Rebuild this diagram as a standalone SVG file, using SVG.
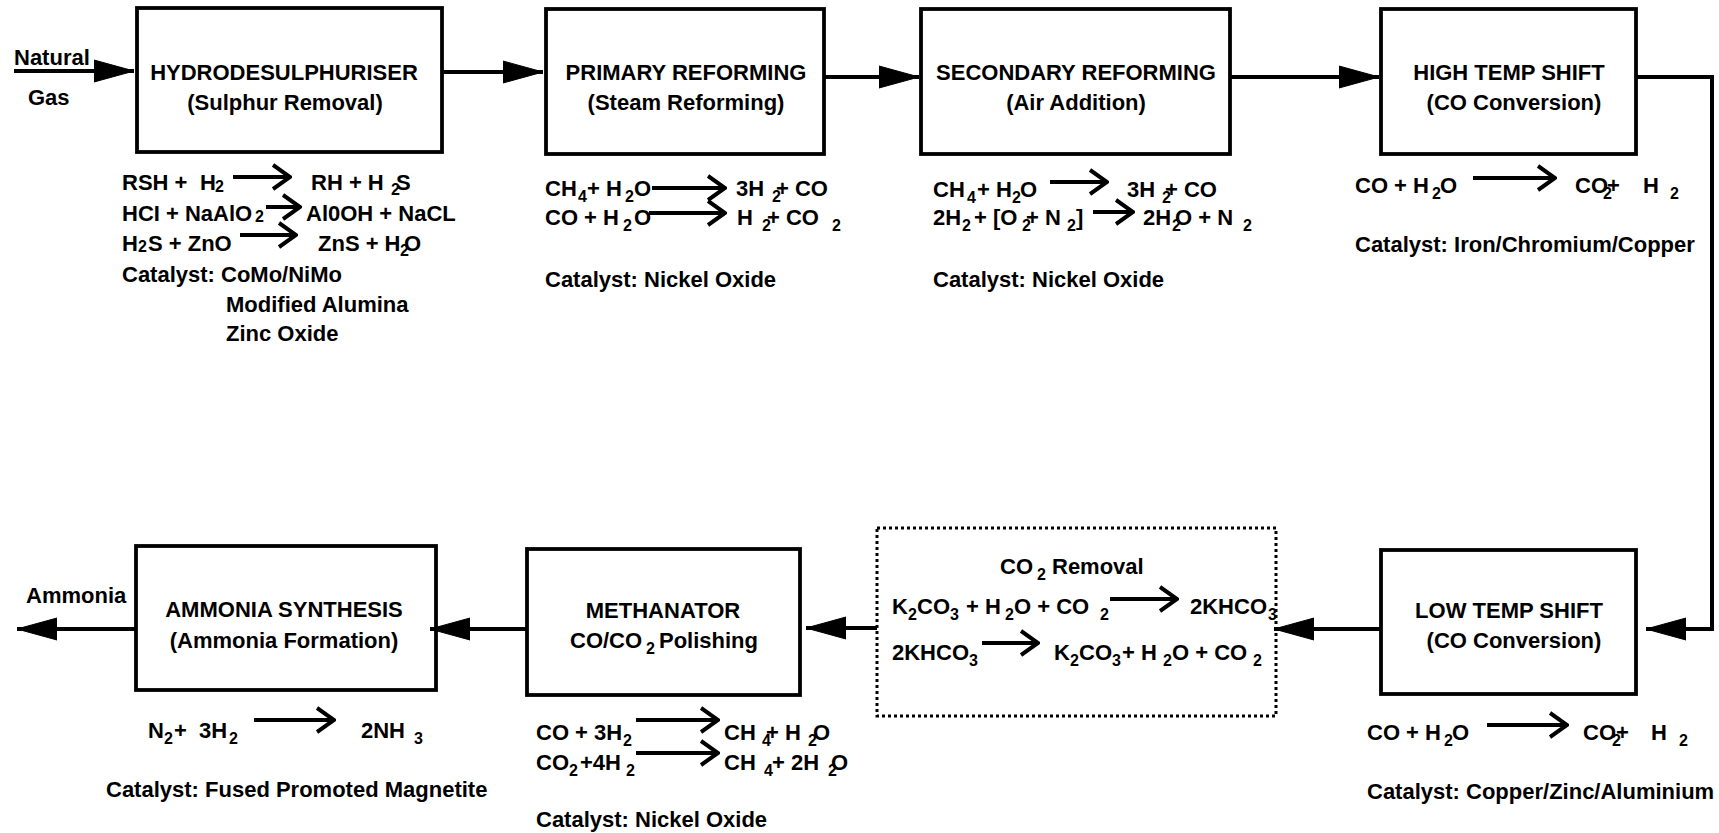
<svg xmlns="http://www.w3.org/2000/svg" width="1719" height="833" viewBox="0 0 1719 833">
<defs>
<style>
.t{font-family:"Liberation Sans",Arial,sans-serif;font-weight:bold;font-size:22px;fill:#000}
.c{text-anchor:middle}
.s{font-size:16px}
.box{fill:none;stroke:#000;stroke-width:3.8}
.dot{fill:none;stroke:#000;stroke-width:3;stroke-dasharray:3 3}
.flow{fill:none;stroke:#000;stroke-width:4;marker-end:url(#tri)}
.eq{fill:none;stroke:#000;stroke-width:4;marker-end:url(#chev)}
</style>
<marker id="tri" markerUnits="userSpaceOnUse" markerWidth="42" markerHeight="24" refX="40" refY="12" orient="auto" viewBox="0 0 42 24"><path d="M0,1 L40,12 L0,23 z" fill="#000" stroke="#000" stroke-width="1" stroke-linejoin="round"/></marker>
<marker id="chev" markerUnits="userSpaceOnUse" markerWidth="20" markerHeight="28" refX="18" refY="14" orient="auto" viewBox="0 0 20 28"><path d="M1,2 L18,14 L1,26" fill="none" stroke="#000" stroke-width="4"/></marker>
</defs>
<rect width="1719" height="833" fill="#fff"/>

<g id="connectors">
<path class="flow" d="M14,71 H134"/>
<path class="flow" d="M442,72 H543"/>
<path class="flow" d="M824,77 H919"/>
<path class="flow" d="M1230,77 H1379"/>
<path class="flow" d="M1636,77 H1712 V629 H1646"/>
<path class="flow" d="M1381,629 H1274"/>
<path class="flow" d="M877,628 H806"/>
<path class="flow" d="M527,629 H430"/>
<path class="flow" d="M136,629 H17"/>
</g>

<g id="labels">
<text class="t" x="14" y="65">Natural</text>
<text class="t" x="28" y="105">Gas</text>
<text class="t" x="26" y="603">Ammonia</text>
</g>

<g id="hydrodesulphuriser">
<rect class="box" x="137" y="8" width="305" height="144"/>
<text class="t c" x="284" y="80">HYDRODESULPHURISER</text>
<text class="t c" x="285" y="110">(Sulphur Removal)</text>
<g id="hds-eq">
<text class="t" y="190"><tspan x="122">RSH +</tspan><tspan x="200">H</tspan><tspan class="s" x="215" y="192">2</tspan><tspan x="311" y="190">RH + H</tspan><tspan class="s" x="391" y="195">2</tspan><tspan x="396" y="190">S</tspan></text>
<path class="eq" d="M233,177 H290"/>
<text class="t" y="221"><tspan x="122">HCI + NaAlO</tspan><tspan class="s" x="255" y="222">2</tspan><tspan x="306" y="221">Al0OH + NaCL</tspan></text>
<path class="eq" d="M266,207 H300"/>
<text class="t" y="251"><tspan x="122">H</tspan><tspan class="s" x="138" y="252">2</tspan><tspan x="148" y="251">S + ZnO</tspan><tspan x="318" y="251">ZnS + H</tspan><tspan class="s" x="400" y="256">2</tspan><tspan x="404" y="251">O</tspan></text>
<path class="eq" d="M240,235 H296"/>
<text class="t" x="122" y="282">Catalyst: CoMo/NiMo</text>
<text class="t" x="226" y="312">Modified Alumina</text>
<text class="t" x="226" y="341">Zinc Oxide</text>
</g>
</g>

<g id="primary-reforming">
<rect class="box" x="546" y="9" width="278" height="145"/>
<text class="t c" x="686" y="80">PRIMARY REFORMING</text>
<text class="t c" x="686" y="110">(Steam Reforming)</text>
<g id="pr-eq">
<text class="t" y="196"><tspan x="545">CH</tspan><tspan class="s" x="578" y="202">4</tspan><tspan x="587" y="196">+ H</tspan><tspan class="s" x="625" y="202">2</tspan><tspan x="634" y="196">O</tspan><tspan x="736" y="196">3H</tspan><tspan class="s" x="772" y="202">2</tspan><tspan x="776" y="196">+ CO</tspan></text>
<path class="eq" d="M652,188 H725"/>
<text class="t" y="225"><tspan x="545">CO + H</tspan><tspan class="s" x="623" y="231">2</tspan><tspan x="634" y="225">O</tspan><tspan x="737" y="225">H</tspan><tspan class="s" x="762" y="231">2</tspan><tspan x="767" y="225">+ CO</tspan><tspan class="s" x="832" y="231">2</tspan></text>
<path class="eq" d="M649,213 H725"/>
<text class="t" x="545" y="287">Catalyst: Nickel Oxide</text>
</g>
</g>

<g id="secondary-reforming">
<rect class="box" x="921" y="9" width="309" height="145"/>
<text class="t c" x="1076" y="80">SECONDARY REFORMING</text>
<text class="t c" x="1076" y="110">(Air Addition)</text>
<g id="sr-eq">
<text class="t" y="197"><tspan x="933">CH</tspan><tspan class="s" x="967" y="203">4</tspan><tspan x="977" y="197">+ H</tspan><tspan class="s" x="1012" y="203">2</tspan><tspan x="1020" y="197">O</tspan><tspan x="1127" y="197">3H</tspan><tspan class="s" x="1162" y="203">2</tspan><tspan x="1165" y="197">+ CO</tspan></text>
<path class="eq" d="M1050,182 H1107"/>
<text class="t" y="225"><tspan x="933">2H</tspan><tspan class="s" x="962" y="231">2</tspan><tspan x="974" y="225">+ [O</tspan><tspan class="s" x="1022" y="231">2</tspan><tspan x="1026" y="225">+ N</tspan><tspan class="s" x="1067" y="231">2</tspan><tspan x="1076" y="225">]</tspan><tspan x="1143" y="225">2H</tspan><tspan class="s" x="1172" y="231">2</tspan><tspan x="1175" y="225">O + N</tspan><tspan class="s" x="1243" y="231">2</tspan></text>
<path class="eq" d="M1093,212 H1133"/>
<text class="t" x="933" y="287">Catalyst: Nickel Oxide</text>
</g>
</g>

<g id="high-temp-shift">
<rect class="box" x="1381" y="9" width="255" height="145"/>
<text class="t c" x="1509" y="80">HIGH TEMP SHIFT</text>
<text class="t c" x="1514" y="110">(CO Conversion)</text>
<g id="hts-eq">
<text class="t" y="193"><tspan x="1355">CO + H</tspan><tspan class="s" x="1432" y="199">2</tspan><tspan x="1440" y="193">O</tspan><tspan x="1575" y="193">CO</tspan><tspan class="s" x="1603" y="199">2</tspan><tspan x="1607" y="193">+</tspan><tspan x="1643" y="193">H</tspan><tspan class="s" x="1670" y="199">2</tspan></text>
<path class="eq" d="M1473,178 H1555"/>
<text class="t" x="1355" y="252">Catalyst: Iron/Chromium/Copper</text>
</g>
</g>

<g id="low-temp-shift">
<rect class="box" x="1381" y="550" width="255" height="144"/>
<text class="t c" x="1509" y="618">LOW TEMP SHIFT</text>
<text class="t c" x="1514" y="648">(CO Conversion)</text>
<g id="lts-eq">
<text class="t" y="740"><tspan x="1367">CO + H</tspan><tspan class="s" x="1444" y="746">2</tspan><tspan x="1452" y="740">O</tspan><tspan x="1583" y="740">CO</tspan><tspan class="s" x="1612" y="746">2</tspan><tspan x="1616" y="740">+</tspan><tspan x="1651" y="740">H</tspan><tspan class="s" x="1679" y="746">2</tspan></text>
<path class="eq" d="M1487,725 H1567"/>
<text class="t" x="1367" y="799">Catalyst: Copper/Zinc/Aluminium</text>
</g>
</g>

<g id="co2-removal">
<rect class="dot" x="877" y="528" width="399" height="188"/>
<text class="t" y="574"><tspan x="1000">CO</tspan><tspan class="s" x="1037" y="580">2</tspan><tspan x="1052" y="574">Removal</tspan></text>
<text class="t" y="614"><tspan x="892">K</tspan><tspan class="s" x="908" y="620">2</tspan><tspan x="917" y="614">CO</tspan><tspan class="s" x="950" y="620">3</tspan><tspan x="966" y="614">+ H</tspan><tspan class="s" x="1005" y="620">2</tspan><tspan x="1014" y="614">O + CO</tspan><tspan class="s" x="1100" y="620">2</tspan><tspan x="1190" y="614">2KHCO</tspan><tspan class="s" x="1268" y="620">3</tspan></text>
<path class="eq" d="M1110,599 H1177"/>
<text class="t" y="660"><tspan x="892">2KHCO</tspan><tspan class="s" x="969" y="666">3</tspan><tspan x="1054" y="660">K</tspan><tspan class="s" x="1070" y="666">2</tspan><tspan x="1079" y="660">CO</tspan><tspan class="s" x="1112" y="666">3</tspan><tspan x="1122" y="660">+ H</tspan><tspan class="s" x="1163" y="666">2</tspan><tspan x="1172" y="660">O + CO</tspan><tspan class="s" x="1253" y="666">2</tspan></text>
<path class="eq" d="M982,643 H1038"/>
</g>

<g id="methanator">
<rect class="box" x="527" y="549" width="273" height="146"/>
<text class="t c" x="663" y="618">METHANATOR</text>
<text class="t" y="648"><tspan x="570">CO/CO</tspan><tspan class="s" x="646" y="654">2</tspan><tspan x="659" y="648">Polishing</tspan></text>
<g id="meth-eq">
<text class="t" y="740"><tspan x="536">CO + 3H</tspan><tspan class="s" x="623" y="746">2</tspan><tspan x="724" y="740">CH</tspan><tspan class="s" x="762" y="746">4</tspan><tspan x="766" y="740">+ H</tspan><tspan class="s" x="808" y="746">2</tspan><tspan x="813" y="740">O</tspan></text>
<path class="eq" d="M636,720 H718"/>
<text class="t" y="770"><tspan x="536">CO</tspan><tspan class="s" x="569" y="776">2</tspan><tspan x="580" y="770">+4H</tspan><tspan class="s" x="626" y="776">2</tspan><tspan x="724" y="770">CH</tspan><tspan class="s" x="764" y="776">4</tspan><tspan x="772" y="770">+ 2H</tspan><tspan class="s" x="828" y="776">2</tspan><tspan x="831" y="770">O</tspan></text>
<path class="eq" d="M636,753 H718"/>
<text class="t" x="536" y="827">Catalyst: Nickel Oxide</text>
</g>
</g>

<g id="ammonia-synthesis">
<rect class="box" x="136" y="546" width="300" height="144"/>
<text class="t c" x="284" y="617">AMMONIA SYNTHESIS</text>
<text class="t c" x="284" y="648">(Ammonia Formation)</text>
<g id="as-eq">
<text class="t" y="738"><tspan x="148">N</tspan><tspan class="s" x="164" y="744">2</tspan><tspan x="174" y="738">+</tspan><tspan x="199" y="738">3H</tspan><tspan class="s" x="229" y="744">2</tspan><tspan x="361" y="738">2NH</tspan><tspan class="s" x="414" y="744">3</tspan></text>
<path class="eq" d="M254,720 H334"/>
<text class="t" x="106" y="797">Catalyst: Fused Promoted Magnetite</text>
</g>
</g>
</svg>
